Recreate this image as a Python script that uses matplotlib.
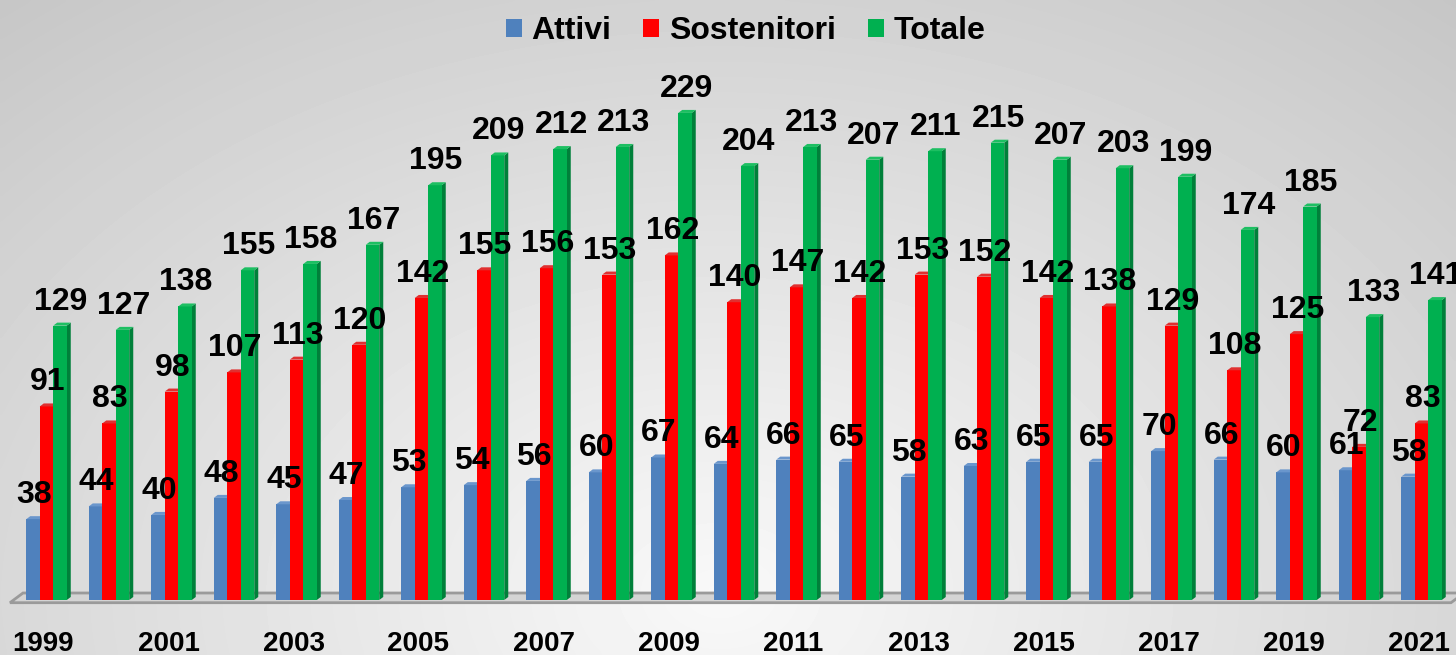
import matplotlib
matplotlib.use("Agg")
import matplotlib.pyplot as plt
from matplotlib.patches import Polygon, Patch
from matplotlib import font_manager
import numpy as np

years = list(range(1999, 2022))
attivi = [38, 44, 40, 48, 45, 47, 53, 54, 56, 60, 67, 64, 66, 65, 58, 63, 65, 65, 70, 66, 60, 61, 58]
sostenitori = [91, 83, 98, 107, 113, 120, 142, 155, 156, 153, 162, 140, 147, 142, 153, 152, 142, 138, 129, 108, 125, 72, 83]
totale = [129, 127, 138, 155, 158, 167, 195, 209, 212, 213, 229, 204, 213, 207, 211, 215, 207, 203, 199, 174, 185, 133, 141]

series = [("Attivi", attivi, "#4F81BD", "#3A6497", "#6A96CC"),
          ("Sostenitori", sostenitori, "#FF0000", "#B80000", "#E03030"),
          ("Totale", totale, "#00B050", "#00803A", "#1DBF62")]

plt.rcParams['font.family'] = ['Liberation Sans', 'DejaVu Sans']

names = {f.name for f in font_manager.fontManager.ttflist}
year_font = 'Liberation Sans Narrow' if 'Liberation Sans Narrow' in names else 'Liberation Sans'
year_size = 23.5 if year_font == 'Liberation Sans Narrow' else 20

fig = plt.figure(figsize=(14.56, 6.55), dpi=100)
ax = fig.add_axes([0, 0, 1, 1])

# pixel mapping: group spacing 62.5px, 2.127 px per unit, base at y=600
px_x = 62.5
px_y = 2.127
xlim = (-46.5 / px_x, (1456 - 46.5) / px_x)
ylim = (-55 / px_y, 600 / px_y)
ax.axis('off')

# background radial gradient
gx, gy = np.meshgrid(np.linspace(0, 1456, 400), np.linspace(0, 655, 200))
r = np.sqrt(((gx - 720) / 1000) ** 2 + ((gy - 60) / 700) ** 2)
bg = 0.975 - 0.23 * np.clip(r, 0, 1.3) / 1.3
ax.imshow(bg, cmap='gray', vmin=0, vmax=1, extent=[xlim[0], xlim[1], ylim[1], ylim[0]],
          aspect='auto', zorder=0, interpolation='bicubic')
ax.set_xlim(*xlim)
ax.set_ylim(*ylim)

# floor
x0 = (10 - 46.5) / px_x
x1 = (1451 - 46.5) / px_x
dxf = 13 / px_x
floor = Polygon([(x0, -2.7 / px_y), (x1, -2.7 / px_y), (x1 + dxf, 7 / px_y), (x0 + dxf, 7 / px_y)],
                closed=True, facecolor="#d4d4d4", edgecolor="#9a9a9a", linewidth=2, zorder=1)
ax.add_patch(floor)

w = 13.5 / px_x
dx = 4 / px_x
dy = 3 / px_y
x = np.arange(len(years))

for k, (name, vals, c, cside, ctop) in enumerate(series):
    left = x - 1.5 * w + k * w
    ax.bar(left, vals, width=w, align='edge', color=c, zorder=3 + k, label=name, linewidth=0)
    for xl, h in zip(left, vals):
        side = Polygon([(xl + w, 0), (xl + w + dx, dy), (xl + w + dx, h + dy), (xl + w, h)],
                       closed=True, facecolor=cside, edgecolor='none', zorder=2.5 + k)
        top = Polygon([(xl, h), (xl + dx, h + dy), (xl + w + dx, h + dy), (xl + w, h)],
                      closed=True, facecolor=ctop, edgecolor='none', zorder=3 + k)
        ax.add_patch(side)
        ax.add_patch(top)
        ax.text(xl + w / 2 + 1 / px_x, h + 16 / px_y, str(h), ha='center', va='baseline',
                fontsize=23, fontweight='bold', color='black', zorder=10)

for i, yr in enumerate(years):
    if i % 2 == 0:
        ax.text(i - 3 / px_x, -51 / px_y, str(yr), ha='center', va='baseline',
                fontsize=year_size, fontweight='bold', family=year_font, color='black', zorder=10)

handles = [Patch(facecolor=c, label=n) for n, _, c, _, _ in series]
ax.legend(handles=handles, loc='upper center', bbox_to_anchor=(0.512, 0.995), ncol=3, frameon=False,
          prop={'size': 23, 'weight': 'bold'}, handlelength=0.5, handleheight=0.5,
          handletextpad=0.3, columnspacing=1.0, borderaxespad=0.0)

fig.savefig("out.png", dpi=100)
